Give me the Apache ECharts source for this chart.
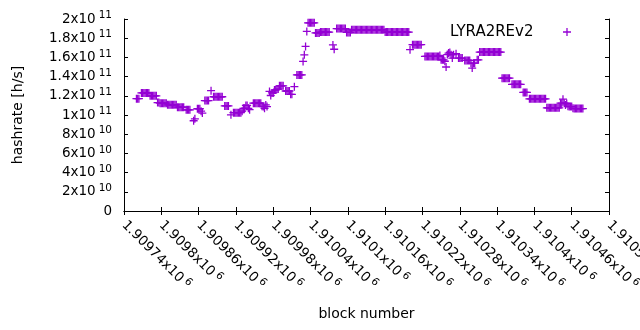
<!DOCTYPE html>
<html lang="en">
<head>
    <meta charset="UTF-8">
    <title>LYRA2REv2 hashrate</title>
    <script src="https://cdn.jsdelivr.net/npm/echarts@6/dist/echarts.min.js"></script>
    <style>
        html, body { margin: 0; padding: 0; background: #fff; }
    </style>
</head>
<body>
<div id="main" style="width: 640px;height: 330px;"></div>
<script>
    // blocks: firstBlock + i*blockStep, one hashrate reading (GH/s) per entry, null = no point
    var firstBlock = 1909758;
    var blockStep = 2;
    var hashrateGH = [
        null,117,117,117,null,123,123,123,123,123,
        123,123,120,120,120,120,120,120,113,113,
        112.3,112.3,112.3,112.3,112.3,112.3,110.6,110.6,110.6,110.6,
        110.6,110.6,110.6,110.6,108.2,108.2,108.2,108.2,108.2,108.2,
        null,105.4,105.4,105.4,105.4,null,null,94,96,null,
        106.5,106.5,106.5,104,102,null,115,115,115,115,
        null,125.3,null,119,119,119,119,119,119,119,
        119,null,109.5,109.5,109.5,109.5,null,100.2,null,102.4,
        102.4,102.4,102.4,102.4,102.4,102.4,104,107,107,110,
        110,107,105.5,null,null,112.3,112.3,112.3,112.3,112.3,
        112.3,112.3,109,108.8,107,110.5,108.8,null,124.5,120.3,
        123,123,126,126,127,127,130.4,130.4,130.4,130.4,
        null,125,125,125,125,121.5,121.5,null,129.5,null,
        141.7,141.7,141.7,141.7,141.7,155.8,162.7,171.4,187,196,
        196,196,196,196,196,185.5,185.5,185.5,185.5,186.4,
        186.4,186.4,186.4,186.4,186.4,186.4,186.4,null,null,173,
        168.5,null,190,190,190,190,190,190,190,190,
        186,186,186,186,188.8,188.8,188.8,188.8,188.8,188.8,
        188.8,188.8,188.8,188.8,188.8,188.8,188.8,188.8,188.8,188.8,
        188.8,188.8,188.8,188.8,188.8,188.8,188.8,188.8,188.8,188.8,
        188.8,186.4,186.4,186.4,186.4,186.4,186.4,186.4,186.4,186.4,
        186.4,186.4,186.4,186.4,186.4,186.4,186.4,186.4,186.4,186.4,
        186.4,168,null,173.2,173.2,173.2,173.2,173.2,173.2,173.2,
        173.2,null,null,161,161,161,161,161,161,161,
        161,161,161,161,161,162,157.5,157.5,157.5,156,
        150,163,164.5,165.2,162.8,159.3,162.8,null,163.8,null,
        159.3,159.3,159.3,159.3,null,156.8,156.8,156.8,156.8,156.8,
        154,148.9,154,154,null,157.5,157.5,165.5,165.5,165.5,
        165.5,165.5,165.5,165.5,165.5,165.5,165.5,165.5,165.5,165.5,
        165.5,165.5,165.5,165.5,165.5,138.4,138.4,138.4,138.4,138.4,
        138.4,138.4,null,132,132,132,132,132,132,132,
        132,null,123.5,123.5,123.5,123.5,null,116.8,116.8,116.8,
        116.8,116.8,116.8,116.8,116.8,116.8,116.8,116.8,116.8,116.8,
        116.8,107.5,107.5,107.5,107.5,107.5,107.5,107.5,107.5,107.5,
        107.5,107.5,112.3,112.3,116.5,112.3,110.5,112,109,108.8,
        108.8,108.8,107,106.7,106.7,106.7,106.7,106.7,106.7,106.7,
        106.7
    ];
    var seriesName = 'LYRA2REv2';
    var xMin = 1909740, xMax = 1910520, xInterval = 60;
    var yMin = 0, yMax = 2e11, yInterval = 2e10;

    var font = 'DejaVu Sans';
    var purple = '#9400d3';
    var cross = 'path://M4.2,0H5.8V4.2H10V5.8H5.8V10H4.2V5.8H0V4.2H4.2Z';

    var points = [];
    for (var i = 0; i < hashrateGH.length; i++) {
        if (hashrateGH[i] === null) continue;
        points.push([firstBlock + i * blockStep, hashrateGH[i] * 1e9]);
    }

    // "2x10^11" style labels, the exponent raised
    function sciLabel(v) {
        if (v === 0) return '{m|0}';
        var e = Math.floor(Math.log10(v) + 1e-9);
        var m = parseFloat((v / Math.pow(10, e)).toPrecision(6));
        return '{m|' + m + 'x10}{s|' + e + '}';
    }
    var labelRich = {
        m: { fontFamily: font, fontSize: 13.5, color: '#000' },
        s: { fontFamily: font, fontSize: 10.5, color: '#000', padding: [0, 0, 7, 3] }
    };

    var myChart = echarts.init(document.getElementById('main'));

    var option = {
        animation: false,
        grid: { left: 124, right: 31, top: 19, bottom: 119, outerBoundsMode: 'none', containLabel: false },
        legend: {
            data: [{ name: seriesName, icon: cross }],
            align: 'right',
            right: 69,
            top: 24,
            padding: 0,
            itemWidth: 57,
            itemHeight: 8,
            itemGap: 5,
            selectedMode: false,
            textStyle: { fontFamily: font, fontSize: 15, color: '#000', lineHeight: 16 }
        },
        xAxis: [{
            type: 'value',
            position: 'bottom',
            min: xMin, max: xMax, interval: xInterval,
            name: 'block number',
            nameLocation: 'middle',
            nameGap: 96,
            nameTextStyle: { fontFamily: font, fontSize: 14, color: '#000' },
            axisLine: { lineStyle: { color: '#000', width: 1 } },
            axisTick: { inside: true, length: 4, lineStyle: { color: '#000' } },
            splitLine: { show: false },
            axisLabel: {
                rotate: -45,
                margin: 12,
                showMinLabel: true, showMaxLabel: true,
                formatter: sciLabel,
                rich: labelRich
            }
        }, {
            type: 'value',
            position: 'top',
            min: xMin, max: xMax, interval: xInterval,
            axisLine: { lineStyle: { color: '#000', width: 1 } },
            axisTick: { inside: true, length: 4, lineStyle: { color: '#000' } },
            axisLabel: { show: false },
            splitLine: { show: false }
        }],
        yAxis: [{
            type: 'value',
            position: 'left',
            min: yMin, max: yMax, interval: yInterval,
            name: 'hashrate [h/s]',
            nameLocation: 'middle',
            nameGap: 99,
            nameTextStyle: { fontFamily: font, fontSize: 14, color: '#000' },
            axisLine: { show: true, lineStyle: { color: '#000', width: 1 } },
            axisTick: { show: true, inside: true, length: 4, lineStyle: { color: '#000' } },
            splitLine: { show: false },
            axisLabel: {
                margin: 12,
                showMinLabel: true, showMaxLabel: true,
                formatter: sciLabel,
                rich: labelRich
            }
        }, {
            type: 'value',
            position: 'right',
            min: yMin, max: yMax, interval: yInterval,
            axisLine: { show: true, lineStyle: { color: '#000', width: 1 } },
            axisTick: { show: true, inside: true, length: 4, lineStyle: { color: '#000' } },
            axisLabel: { show: false },
            splitLine: { show: false }
        }],
        series: [{
            name: seriesName,
            type: 'scatter',
            xAxisIndex: 0,
            yAxisIndex: 0,
            symbol: cross,
            symbolSize: 8,
            itemStyle: { color: purple, opacity: 1 },
            silent: true,
            data: points
        }]
    };

    myChart.setOption(option);
</script>
</body>
</html>
